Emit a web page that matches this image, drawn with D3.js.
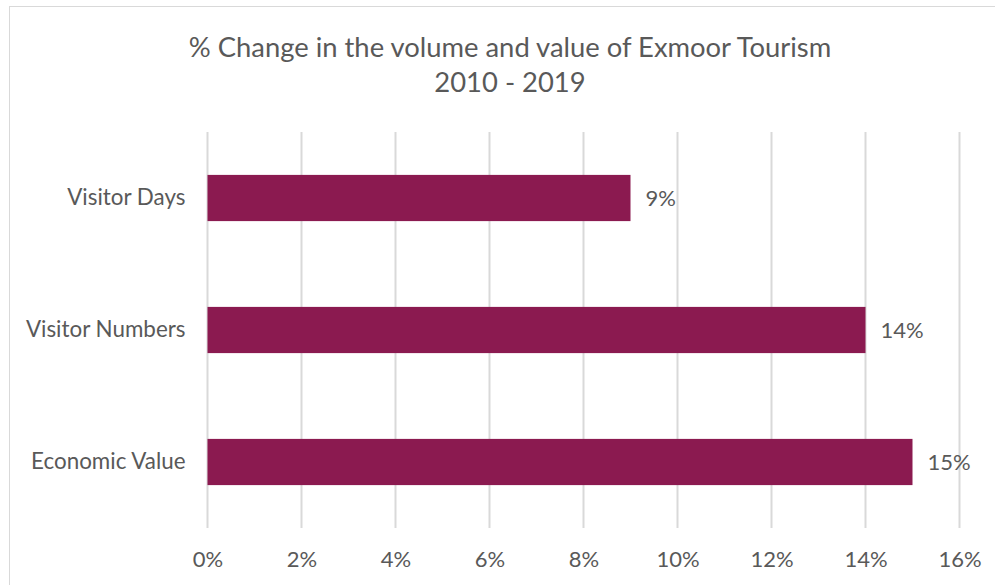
<!DOCTYPE html>
<html>
<head>
<meta charset="utf-8">
<script src="https://cdn.jsdelivr.net/npm/d3@7"></script>
<style>
  body { margin: 0; background: #fff; }
  svg { display: block; font-family: Lato, "Open Sans", sans-serif; }
</style>
</head>
<body>
<div id="vis"></div>
<script>
// frame
const FRAME_WIDTH = 995;
const FRAME_HEIGHT = 585;
const MARGINS = {left: 207.5, right: 35.5, top: 132, bottom: 57};

const VIS_WIDTH = FRAME_WIDTH - MARGINS.left - MARGINS.right;
const VIS_HEIGHT = FRAME_HEIGHT - MARGINS.top - MARGINS.bottom;

// data
const CATEGORIES = ["Visitor Days", "Visitor Numbers", "Economic Value"];
const VALUES = [9, 14, 15];
const X_TICKS = [0, 2, 4, 6, 8, 10, 12, 14, 16];
const TITLE_LINES = ["% Change in the volume and value of Exmoor Tourism", "2010 - 2019"];

const TEXT_COLOR = "#595959";
const BAR_COLOR = "#8b1a50";
const GRID_COLOR = "#d9d9d9";

const FRAME = d3.select("#vis")
                .append("svg")
                  .attr("width", FRAME_WIDTH)
                  .attr("height", FRAME_HEIGHT);

// chart border
FRAME.append("rect")
    .attr("x", 9.5)
    .attr("y", 6.5)
    .attr("width", FRAME_WIDTH)
    .attr("height", FRAME_HEIGHT)
    .attr("fill", "none")
    .attr("stroke", GRID_COLOR)
    .attr("stroke-width", 1);

// scales
const X_SCALE = d3.scaleLinear()
                    .domain([0, 16])
                    .range([0, VIS_WIDTH]);

const Y_SCALE = d3.scaleBand()
                    .domain(CATEGORIES)
                    .range([0, VIS_HEIGHT])
                    .paddingInner(0.65)
                    .paddingOuter(0.325);

const G = FRAME.append("g")
    .attr("transform", "translate(" + MARGINS.left + "," + MARGINS.top + ")");

// gridlines
G.selectAll(".grid")
    .data(X_TICKS)
    .enter()
    .append("line")
      .attr("x1", (d) => { return X_SCALE(d); })
      .attr("x2", (d) => { return X_SCALE(d); })
      .attr("y1", 0)
      .attr("y2", VIS_HEIGHT)
      .attr("stroke", GRID_COLOR)
      .attr("stroke-width", 2);

// bars
const data = CATEGORIES.map((c, i) => { return {cat: c, val: VALUES[i]}; });

G.selectAll(".bar")
    .data(data)
    .enter()
    .append("rect")
      .attr("x", X_SCALE(0))
      .attr("y", (d) => { return Y_SCALE(d.cat); })
      .attr("width", (d) => { return X_SCALE(d.val) - X_SCALE(0); })
      .attr("height", Y_SCALE.bandwidth())
      .attr("fill", BAR_COLOR);

// value labels
G.selectAll(".lbl")
    .data(data)
    .enter()
    .append("text")
      .attr("x", (d) => { return X_SCALE(d.val) + 15; })
      .attr("y", (d) => { return Y_SCALE(d.cat) + Y_SCALE.bandwidth() / 2; })
      .attr("dy", "0.35em")
      .attr("fill", TEXT_COLOR)
      .attr("font-size", "22px")
      .text((d) => { return d.val + "%"; });

// x axis
const xAxis = G.append("g")
    .attr("transform", "translate(0," + VIS_HEIGHT + ")")
    .call(d3.axisBottom(X_SCALE).tickValues(X_TICKS)
            .tickFormat((d) => { return d + "%"; })
            .tickSize(0).tickPadding(23));
xAxis.select(".domain").remove();
xAxis.selectAll("text")
    .attr("fill", TEXT_COLOR)
    .attr("font-size", "22px")
    .attr("font-family", "Lato, sans-serif");

// y axis
const yAxis = G.append("g")
    .call(d3.axisLeft(Y_SCALE).tickSize(0).tickPadding(22));
yAxis.select(".domain").remove();
yAxis.selectAll("text")
    .attr("fill", TEXT_COLOR)
    .attr("font-size", "22.4px")
    .attr("font-family", "Lato, sans-serif");

// title
FRAME.append("text")
    .attr("x", 510)
    .attr("y", 57)
    .attr("text-anchor", "middle")
    .attr("fill", TEXT_COLOR)
    .attr("font-size", "27.4px")
    .selectAll("tspan")
    .data(TITLE_LINES)
    .enter()
    .append("tspan")
      .attr("x", 510)
      .attr("dy", (d, i) => { return i === 0 ? 0 : 35; })
      .text((d) => { return d; });
</script>
</body>
</html>
